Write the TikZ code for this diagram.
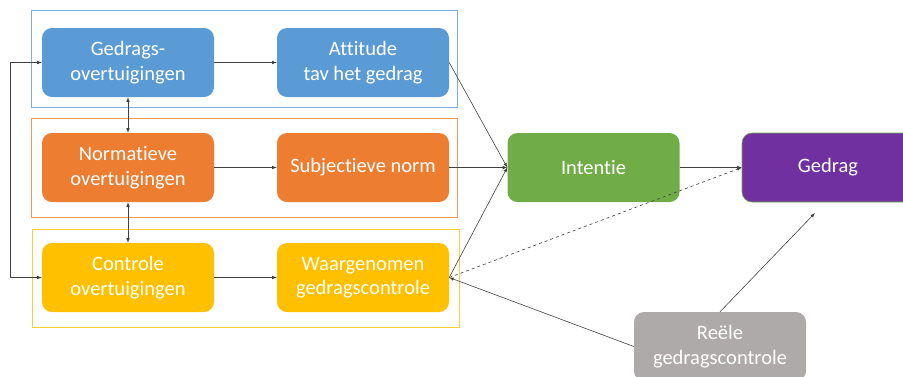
\documentclass[tikz,border=0pt]{standalone}
\usepackage{fontspec}
\setmainfont{Carlito}[Ligatures=NoCommon]
\usepackage{xcolor}
\usepackage{tikz}
\usetikzlibrary{arrows}
\usetikzlibrary{calc}

\definecolor{tblue}{HTML}{5B9BD5}
\definecolor{torange}{HTML}{ED7D31}
\definecolor{tyellow}{HTML}{FFC000}
\definecolor{tgreen}{HTML}{70AD47}
\definecolor{tpurple}{HTML}{7030A0}
\definecolor{tgrey}{HTML}{AEAAAA}

\begin{document}
\begin{tikzpicture}[x=1pt,y=-1pt]
\tikzset{every box/.style={rounded corners=10pt, minimum width=172pt, minimum height=69pt,
    text=white, align=center, font=\fontsize{20.5}{24.5}\selectfont, inner sep=2pt}}
\tikzset{every link/.style={draw=black!75, line width=0.6pt, -latex}}
\tikzset{every frame/.style={line width=0.8pt}}

\useasboundingbox (0,0) rectangle (903,376);

   % frames round the three rows
   \foreach \top/\bot/\left/\right/\col in {10/107/31/457/tblue,
                                         118/217/31/457/torange,
                                         229/327/32/459/tyellow}
      \draw [every frame, draw=\col!80] (\left,\top) rectangle (\right,\bot);

   % belief and attitude boxes
   \node [every box, fill=tblue]   (gedrags)     at (128,62.5)  {Gedrags-\\overtuigingen};
   \node [every box, fill=tblue]   (attitude)    at (363,62.5)  {Attitude\\tav het gedrag};
   \node [every box, fill=torange] (normatieve)  at (128,167.5) {Normatieve\\overtuigingen};
   \node [every box, fill=torange] (subjectieve) at (363,167.5) {Subjectieve norm};
   \node [every box, fill=tyellow] (controle)    at (128,277.5) {Controle\\overtuigingen};
   \node [every box, fill=tyellow] (waargenomen) at (363,277.5) {Waargenomen\\gedragscontrole};

   \node [every box, fill=tgreen]  (intentie)    at (593.5,167.5) {Intentie};
   \node [every box, fill=tpurple, draw=tgreen, line width=0.6pt] (gedrag) at (828,167.5) {Gedrag};
   \node [every box, fill=tgrey]   (reele)       at (720,346.5) {Reële\\gedragscontrole};

   \coordinate (onder) at (815,213);

   % connectors
   \draw [every link] (gedrags) -- (attitude);
   \draw [every link] (normatieve) -- (subjectieve);
   \draw [every link] (controle) -- (waargenomen);
   \draw [every link, latex-latex] (gedrags) -- (normatieve);
   \draw [every link, latex-latex] (normatieve) -- (controle);
   \draw [every link, latex-latex] (controle.west) -- ++(-32,0) |- (gedrags.west);

   \draw [every link] (attitude.east) -- (intentie.west);
   \draw [every link] (subjectieve.east) -- (intentie.west);
   \draw [every link] (waargenomen.east) -- (intentie.west);
   \draw [every link] (intentie) -- (gedrag);
   \draw [every link, dashed] (waargenomen.east) -- (gedrag.west);
   \draw [every link] (reele.west) -- (waargenomen.east);
   \draw [every link] (reele.north) -- (onder);
\end{tikzpicture}
\end{document}
